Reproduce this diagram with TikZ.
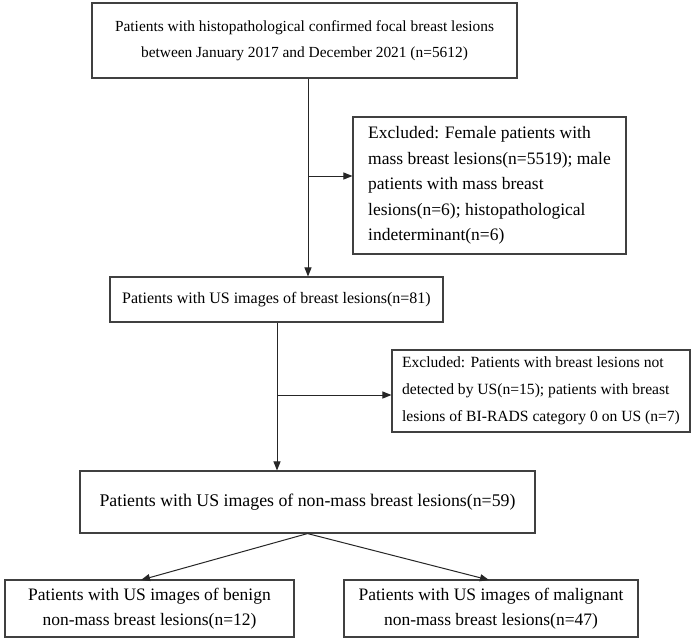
\documentclass[tikz,border=0pt]{standalone}
\usepackage{fontspec}
\setmainfont{Liberation Serif}
\usetikzlibrary{arrows.meta,calc}
\begin{document}
\begin{tikzpicture}[x=1pt,y=-1pt,
 box/.style={draw=black!75,line width=1.1pt,inner sep=0pt,fill=white,font=\fontsize{17.5}{25.5}\selectfont},
 arr/.style={draw=black!85,line width=1pt,-{Triangle[length=9pt,width=7pt]}}]
\useasboundingbox[fill=white] (0,0) rectangle (700,640);
\node[box,minimum width=425,minimum height=75,align=center,font=\fontsize{15.4}{26}\selectfont] (b1) at (304.5,40.5)
 {Patients with histopathological confirmed focal breast lesions\\between January 2017 and December 2021 (n=5612)};
\node[box,minimum width=273,minimum height=137,align=left] (e1) at (489.5,185.5)
 {Excluded: Female patients with\\mass breast lesions(n=5519); male\\patients with mass breast\\lesions(n=6); histopathological\\indeterminant(n=6)};
\node[box,minimum width=333,minimum height=45,align=center,font=\fontsize{16}{25}\selectfont] (b2) at (276.5,299.5)
 {Patients with US images of breast lesions(n=81)};
\node[box,minimum width=298,minimum height=82,align=left,font=\fontsize{15.6}{27}\selectfont] (e2) at (541,391)
 {Excluded: Patients with breast lesions not\\detected by US(n=15); patients with breast\\lesions of BI-RADS category 0 on US (n=7)};
\node[box,minimum width=455,minimum height=62,align=center,font=\fontsize{17.8}{25.5}\selectfont] (b3) at (307.5,502)
 {Patients with US images of non-mass breast lesions(n=59)};
\node[box,minimum width=289,minimum height=57,align=center] (b4) at (149.5,608.5)
 {Patients with US images of benign\\non-mass breast lesions(n=12)};
\node[box,minimum width=294,minimum height=57,align=center] (b5) at (491,608.5)
 {Patients with US images of malignant\\non-mass breast lesions(n=47)};
\coordinate (j1) at (308,176);
\coordinate (j2) at (277,395);
\coordinate (t4) at (141,580);
\coordinate (t5) at (489,580);
\draw[arr] (b1.south -| j1) -- (b2.north -| j1);
\draw[arr] (j1) -- (j1 -| e1.west);
\draw[arr] (b2.south -| j2) -- (b3.north -| j2);
\draw[arr] (j2) -- (j2 -| e2.west);
\draw[arr] (b3.south) -- (t4);
\draw[arr] (b3.south) -- (t5);
\end{tikzpicture}
\end{document}
